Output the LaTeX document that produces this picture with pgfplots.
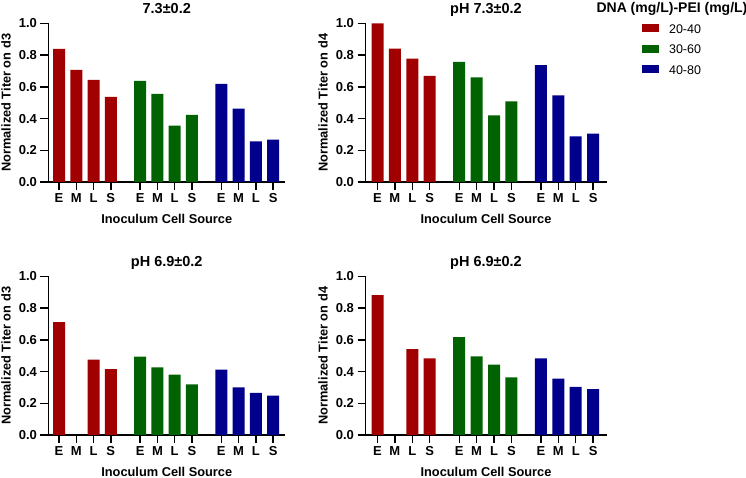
\documentclass[border=0pt]{standalone}
\usepackage{pgfplots}
\pgfplotsset{compat=1.18}
\usepackage{fontspec}
\setmainfont{Liberation Sans}
\definecolor{cred}{RGB}{160,0,0}
\definecolor{cgreen}{RGB}{0,98,0}
\definecolor{cblue}{RGB}{0,0,140}
\pgfplotsset{
  panel/.style={
    scale only axis, height=158.5pt,
    ymin=0, ymax=1, ytick={0,0.2,0.4,0.6,0.8,1.0},
    yticklabel style={/pgf/number format/.cd, fixed, fixed zerofill, precision=1, assume math mode=true},
    axis x line=bottom, axis y line=left,
    axis line style={-, line width=1.4pt},
    tick align=outside, major tick length=8pt,
    tick style={line width=1.4pt, black},
    xtick={0,1,2,3,4.7,5.7,6.7,7.7,9.4,10.4,11.4,12.4},
    xticklabels={E,M,L,S,E,M,L,S,E,M,L,S},
    ticklabel style={font=\bfseries\fontsize{13}{13}\selectfont},
    xlabel={Inoculum Cell Source},
    every axis x label/.style={at={(axis description cs:0.5,0)}, yshift=-41.6pt, anchor=base, font=\bfseries\fontsize{12.8}{13}\selectfont},
    every axis y label/.style={at={(axis description cs:0,0.5)}, xshift=-42.5pt, rotate=90, anchor=center, font=\bfseries\fontsize{12.8}{13}\selectfont},
    every axis title/.style={at={(axis description cs:0.5,1)}, yshift=10.3pt, anchor=base, font=\bfseries\fontsize{14.5}{15}\selectfont},
    clip=false,
  },
  leftp/.style={panel, width=236.5pt, xmin=-0.61, xmax=13.09},
  rightp/.style={panel, width=241pt, xmin=-0.69, xmax=13.17},
  bar/.style={ybar, bar width=12pt, bar shift=0pt, fill=#1, draw=none},
}
\begin{document}
\begin{tikzpicture}
\useasboundingbox (0pt,0pt) rectangle (746pt,478pt);
% top left
\begin{axis}[leftp, at={(48.5pt,296pt)}, anchor=south west, title={7.3±0.2}, ylabel={Normalized Titer on d3}]
\addplot[bar=cred] coordinates {(0,0.840) (1,0.708) (2,0.645) (3,0.537)};
\addplot[bar=cgreen] coordinates {(4.7,0.638) (5.7,0.556) (6.7,0.355) (7.7,0.423)};
\addplot[bar=cblue] coordinates {(9.4,0.619) (10.4,0.463) (11.4,0.256) (12.4,0.268)};
\end{axis}
% top right
\begin{axis}[rightp, at={(365.5pt,296pt)}, anchor=south west, title={pH 7.3±0.2}, ylabel={Normalized Titer on d4},
  legend style={draw=none, fill=none, at={(axis description cs:1.1476,0.9937)}, anchor=north west,
    font=\fontsize{12.5}{13}\selectfont, row sep=11.5pt, inner sep=0pt, outer sep=0pt,
    nodes={inner sep=0pt, text height=9pt, text depth=0pt},
    /tikz/every odd column/.append style={column sep=10pt}},
  legend cell align=left,
  legend image code/.code={\fill[#1] (0pt,-3.5pt) rectangle (17pt,4.5pt);}]
\addplot[bar=cred] coordinates {(0,1.0) (1,0.842) (2,0.779) (3,0.670)};
\addplot[bar=cgreen] coordinates {(4.7,0.758) (5.7,0.660) (6.7,0.420) (7.7,0.508)};
\addplot[bar=cblue] coordinates {(9.4,0.737) (10.4,0.546) (11.4,0.288) (12.4,0.305)};
\legend{20-40,30-60,40-80}
\end{axis}
% bottom left
\begin{axis}[leftp, at={(48.5pt,43pt)}, anchor=south west, title={pH 6.9±0.2}, ylabel={Normalized Titer on d3}]
\addplot[bar=cred] coordinates {(0,0.712) (2,0.476) (3,0.415)};
\addplot[bar=cgreen] coordinates {(4.7,0.494) (5.7,0.427) (6.7,0.381) (7.7,0.320)};
\addplot[bar=cblue] coordinates {(9.4,0.413) (10.4,0.300) (11.4,0.265) (12.4,0.248)};
\end{axis}
% bottom right
\begin{axis}[rightp, at={(365.5pt,43pt)}, anchor=south west, title={pH 6.9±0.2}, ylabel={Normalized Titer on d4}]
\addplot[bar=cred] coordinates {(0,0.883) (2,0.541) (3,0.483)};
\addplot[bar=cgreen] coordinates {(4.7,0.618) (5.7,0.496) (6.7,0.444) (7.7,0.364)};
\addplot[bar=cblue] coordinates {(9.4,0.483) (10.4,0.356) (11.4,0.303) (12.4,0.290)};
\end{axis}
\node[anchor=base west, font=\bfseries\fontsize{14}{14}\selectfont] at (593pt,465pt) {DNA (mg/L)-PEI (mg/L)};
\end{tikzpicture}
\end{document}
